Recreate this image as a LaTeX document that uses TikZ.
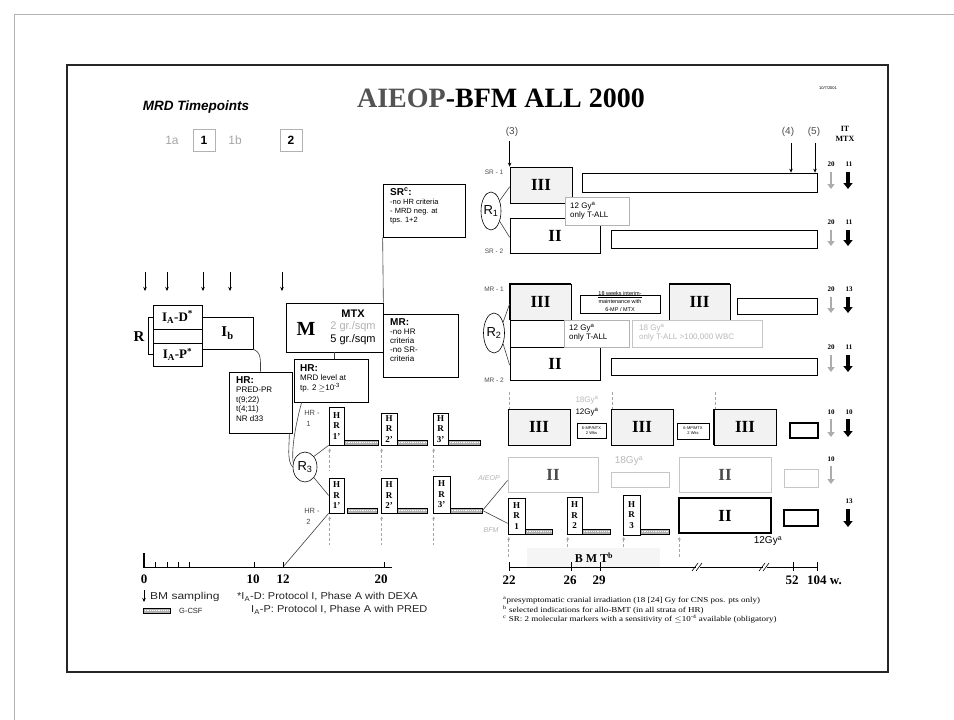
\documentclass[tikz,border=0pt]{standalone}
\usepackage{fontspec}
\setmainfont{Liberation Serif}
\setsansfont{Liberation Sans}
\usepackage{graphicx}
\usetikzlibrary{fit,shapes.geometric,arrows.meta,calc}
\newcommand\fsz[1]{\fontsize{#1}{#1}\selectfont}
\newcommand\rn[1]{\rmfamily\bfseries\fsz{17}#1}
\newcommand\rb[6][]{\node[fit={(#4) (#5)}, inner sep=0pt, #3] (#2) {};
  \node[txt, #1] (#2t) at (#2.center) {#6};}
\begin{document}
\begin{tikzpicture}[x=1pt,y=-1pt,
  txt/.style={inner sep=0pt, align=center, font=\sffamily},
  hrf/.style={font=\rmfamily\bfseries\fontsize{9}{10.5}\selectfont},
  tiny/.style={font=\sffamily\fontsize{4}{5}\selectfont},
  bx/.style={draw, line width=0.7pt, inner sep=0pt},
  pIII/.style={bx, fill=gray!10},
  gbx/.style={draw=gray!45, line width=0.8pt, inner sep=0pt},
  tbx/.style={draw, line width=1.4pt, inner sep=0pt},
  csf/.style={draw, line width=0.6pt, fill=gray!60, inner sep=0pt,
    path picture={\draw[white, line width=1.1pt, dash pattern=on 1.2pt off 1pt]
      (path picture bounding box.west) -- (path picture bounding box.east);}},
  bm/.style={-{Stealth[length=4pt,width=3.5pt]}, line width=0.6pt},
  garr/.style={-{Triangle[length=5pt,width=7pt]}, line width=2.4pt, gray!65},
  karr/.style={-{Triangle[length=6pt,width=9pt]}, line width=3.2pt, black},
  dsh/.style={densely dashed, gray!70, line width=0.5pt, {Stealth[length=3pt,width=3pt]}-},
  dsn/.style={densely dashed, gray!70, line width=0.5pt},
  ln/.style={line width=0.6pt, gray!50!black},
  lab/.style={txt, text=gray!60!black, font=\sffamily\fsz{6.5}},
]
\useasboundingbox (0,0) rectangle (954,720);
\fill[white] (0,0) rectangle (954,720);
% frames
\draw[gray!60, line width=1pt] (14,720) -- (14,14) -- (954,14);
\draw[line width=2.4pt, black!85] (67,65) rectangle (888,672);

% title
\node[inner sep=0pt, font=\rmfamily\bfseries\fsz{28}] (title) at (501,98) {\textcolor{gray!65!black}{AIEOP}-BFM ALL 2000};
\node[txt, font=\sffamily\fsz{4}] (date) at (828,88) {10/7/2001};

% MRD timepoints
\node[txt, font=\sffamily\bfseries\itshape\fsz{13.5}] (mrd) at (196,107) {MRD Timepoints};
\node[txt, text=gray!70, font=\sffamily\fsz{12}] (t1a) at (172,140) {1a};
\rb[font=\sffamily\bfseries\fsz{12}]{t1}{draw=gray!60, line width=0.6pt}{193,129}{215,151}{1}
\node[txt, text=gray!70, font=\sffamily\fsz{12}] (t1b) at (235,140) {1b};
\rb[font=\sffamily\bfseries\fsz{12}]{t2}{draw=gray!60, line width=0.6pt}{280,129}{302,151}{2}

% BM sampling arrows
\foreach \x [count=\i] in {145,167,203,230,282} {
  \coordinate (bma\i) at (\x,272); \coordinate (bmb\i) at (\x,291);
  \draw[bm] (bma\i) -- (bmb\i);}

% induction
\node[txt, font=\rmfamily\bfseries\fsz{15}] (Rl) at (139,337) {R};
\rb{gapA}{bx}{153,329}{202,343}{}
\rb{iad}{bx}{153,305}{202,329}{\rmfamily\bfseries\fsz{13}I\textsubscript{A}-D\textsuperscript{*}}
\rb{iap}{bx}{153,343}{202,366}{\rmfamily\bfseries\fsz{13}I\textsubscript{A}-P\textsuperscript{*}}
\rb{ib}{bx}{202,317}{253,349}{\rmfamily\bfseries\fsz{15}I\textsubscript{b}}
\draw[line width=0.6pt] (iad.west) -- ++(-4,0) |- (iap.west);

% HR left
\rb{hrl}{bx}{229,372}{292,433}{}
\node[txt, anchor=north west, align=left, font=\sffamily\fontsize{8}{9.6}\selectfont] (hrlx) at (236,376)
  {{\fsz{10}\bfseries HR:}\\PRED-PR\\t(9;22)\\t(4;11)\\NR d33};
\draw[ln] (ib.south east) .. controls +(8,3) and +(0,-12) .. (hrl.north);

% M
\rb{mb}{bx}{286,303}{383,352}{}
\node[txt, font=\rmfamily\bfseries\fsz{20}] (mM) at (306,329) {M};
\node[txt, font=\sffamily\fontsize{11}{12.5}\selectfont] (mtx) at (353,327)
  {{\bfseries MTX}\\\textcolor{gray!60}{2 gr./sqm}\\5 gr./sqm};

% HR middle
\rb{hrm}{bx}{294,359}{368,402}{}
\node[txt, anchor=north west, align=left, font=\sffamily\fontsize{8}{9.5}\selectfont] (hrmx) at (300,364)
  {{\fsz{10}\bfseries HR:}\\MRD level at\\tp. 2 $\geq$10\textsuperscript{-3}};
\draw[ln] (mb.south) -- (mb.south |- hrm.north);

% SR box
\rb{srb}{bx}{383,184}{465,237}{}
\node[txt, anchor=north west, align=left, font=\sffamily\fontsize{7.5}{9}\selectfont] (srbx) at (390,188)
  {{\fsz{10}\bfseries SR\textsuperscript{c}:}\\-no HR criteria\\- MRD neg. at\\tps. 1+2};
\draw[ln] (srb.south west) -- (mb.north east);

% MR box
\rb{mrb}{bx}{383,314}{458,377}{}
\node[txt, anchor=north west, align=left, font=\sffamily\fontsize{8}{9.2}\selectfont] (mrbx) at (390,318)
  {{\fsz{10}\bfseries MR:}\\-no HR\\criteria\\-no SR-\\criteria};

% ---------- SR right ----------
\node[lab] (lsr1) at (494,172) {SR - 1};
\rb{sr1}{pIII}{510,167}{572,203}{\rn{III}}
\rb{sr1m}{bx}{582,173}{817,192}{}
\rb{sr2}{bx}{510,218}{600,253}{\rn{II}}
\draw[line width=1.6pt] (sr2.north east) -- (sr2.south east);
\rb{sr12}{bx, fill=white, draw=gray!60}{565,197}{629,225}{}
\node[txt, anchor=west, align=left, font=\sffamily\fontsize{8}{9.5}\selectfont] (sr12x) at (570,211) {12 Gy\textsuperscript{a}\\only T-ALL};
\rb{sr2m}{bx}{611,230}{817,248}{}
\node[lab] (lsr2) at (494,251) {SR - 2};
\node[draw, ellipse, line width=0.6pt, minimum width=20pt, minimum height=38pt, inner sep=0pt, fill=white] (R1) at (491,211) {};
\node[txt, font=\sffamily\fsz{13}] (R1t) at (491,211) {R\textsubscript{1}};
\draw[ln] (R1.50) -- ($(sr1.south west)!0.45!(sr1.north west)$);
\draw[ln] (R1.-50) -- ($(sr2.north west)!0.55!(sr2.south west)$);

% ---------- MR right ----------
\node[lab] (lmr1) at (494,289) {MR - 1};
\rb{mr1}{pIII}{510,284}{571,320}{\rn{III}}
\rb{mrim}{bx}{580,295}{660,313}{}
\node[txt, font=\sffamily\fontsize{5.5}{8}\selectfont] (mrimx) at (620,302) {\underline{18 weeks interim-}\\maintenance with\\6-MP / MTX};
\rb{mr1b}{pIII}{669,284}{730,320}{\rn{III}}
\draw[line width=1.4pt] (mr1.south west) |- (mr1.north east);
\draw[line width=1.4pt] (mr1b.north west) -- (mr1b.north east);
\rb{mr1m}{bx}{737,298}{817,314}{}
\rb{mrgap}{bx}{510,320}{564,347}{}
\rb{mr2}{bx}{510,347}{600,380}{\rn{II}}
\draw[line width=1.6pt] (mr2.north east) -- (mr2.south east);
\rb{mr12}{bx, fill=white, draw=gray!60}{564,320}{629,347}{}
\node[txt, anchor=west, align=left, font=\sffamily\fontsize{8}{9.5}\selectfont] (mr12x) at (569,333) {12 Gy\textsuperscript{a}\\only T-ALL};
\rb{mr18}{gbx, fill=white}{632,320}{762,347}{}
\node[txt, anchor=west, align=left, text=gray!55, font=\sffamily\fontsize{8}{9.5}\selectfont] (mr18x) at (639,333) {18 Gy\textsuperscript{a}\\only T-ALL >100,000 WBC};
\rb{mr2m}{bx}{611,358}{817,375}{}
\node[lab] (lmr2) at (494,380) {MR - 2};
\node[draw, ellipse, line width=0.6pt, minimum width=21pt, minimum height=40pt, inner sep=0pt, fill=white] (R2) at (494,333) {};
\node[txt, font=\sffamily\fsz{13}] (R2t) at (494,333) {R\textsubscript{2}};
\draw[ln] (R2.50) -- ($(mr1.south west)!0.45!(mr1.north west)$);
\draw[ln] (R2.-50) -- ($(mr2.north west)!0.55!(mr2.south west)$);

% ---------- HR right ----------
\rb{h1a}{pIII}{508,409}{570,445}{\rn{III}}
\rb[tiny]{h1s1}{bx, line width=1pt}{577,423}{606,438}{6-MP/MTX\\2 Wks}
\node[txt, text=gray!55, font=\sffamily\fsz{8}] (g18) at (587,400) {18Gy\textsuperscript{a}};
\node[txt, font=\sffamily\fsz{8}] (g12) at (587,412) {12Gy\textsuperscript{a}};
\rb{h1b}{pIII}{611,409}{673,445}{\rn{III}}
\rb[tiny]{h1s2}{bx, line width=1pt}{677,423}{709,439}{6-MP/MTX\\2 Wks}
\rb{h1c}{pIII}{714,409}{776,445}{\rn{III}}
\draw[line width=1.4pt] (h1c.south west) -- (h1c.north west);
\rb{h1s3}{bx, line width=1.3pt}{790,423}{818,438}{}

\node[txt, text=gray!60, font=\sffamily\itshape\fsz{7}] (laieop) at (489,478) {AIEOP};
\rb[text=gray!60!black]{a1}{gbx}{508,457}{598,492}{\rn{II}}
\node[txt, text=gray!55, font=\sffamily\fsz{10}] (a18) at (629,461) {18Gy\textsuperscript{a}};
\rb{a2}{gbx}{611,472}{669,487}{}
\rb[text=gray!60!black]{a3}{gbx}{679,457}{771,492}{\rn{II}}
\rb{a4}{gbx}{784,469}{818,487}{}

\node[txt, text=gray!60, font=\sffamily\itshape\fsz{7}] (lbfm) at (491,530) {BFM};
\rb[hrf]{b1}{bx}{508,498}{525,534}{H\\R\\1}
\rb{b1c}{csf}{525,529}{552,534}{}
\rb[hrf]{b2}{bx}{567,497}{582,534}{H\\R\\2}
\rb{b2c}{csf}{582,529}{610,534}{}
\rb[hrf]{b3}{bx}{623,495}{640,535}{H\\R\\3}
\rb{b3c}{csf}{640,529}{669,534}{}
\rb{b4}{tbx}{679,498}{771,533}{\rn{II}}
\rb{b5}{tbx}{784,510}{818,526}{}
\node[txt, font=\sffamily\fsz{10}] (b12) at (768,541) {12Gy\textsuperscript{a}};

% ---------- HR blocks left ----------
\node[lab, align=left, font=\sffamily\fontsize{7.5}{11}\selectfont] (lhr1) at (312,418) {HR -\\\ 1};
\rb[hrf]{l1a}{bx}{329,407}{344,445}{H\\R\\1'}
\rb{l1ac}{csf}{344,440}{378,445}{}
\rb[hrf]{l1b}{bx}{381,413}{397,445}{H\\R\\2'}
\rb{l1bc}{csf}{397,440}{427,445}{}
\rb[hrf]{l1c}{bx}{433,413}{448,445}{H\\R\\3'}
\rb{l1cc}{csf}{448,440}{480,445}{}

\node[lab, align=left, font=\sffamily\fontsize{7.5}{11}\selectfont] (lhr2) at (312,516) {HR -\\\ 2};
\rb[hrf]{l2a}{bx}{329,478}{344,513}{H\\R\\1'}
\rb{l2ac}{csf}{347,508}{377,513}{}
\rb[hrf]{l2b}{bx}{381,478}{397,513}{H\\R\\2'}
\rb{l2bc}{csf}{397,508}{427,513}{}
\rb[hrf]{l2c}{bx}{433,476}{450,513}{H\\R\\3'}
\rb{l2cc}{csf, line width=1pt}{450,508}{482,513}{}

\node[draw, ellipse, line width=0.6pt, minimum width=24pt, minimum height=30pt, inner sep=0pt, fill=white] (R3) at (305,467) {};
\node[txt, font=\sffamily\fsz{13}] (R3t) at (305,467) {R\textsubscript{3}};
\draw[ln] (R3.50) -- (l1a.south west);
\draw[ln] (R3.-50) -- (l2a.west);
\draw[ln] ($(hrm.south west)+(8,0)$) .. controls +(-6,22) and +(-2,-14) .. (R3.160);
\draw[ln] ($(hrl.south east)+(-3,0)$) .. controls +(0,12) and +(-6,-6) .. (R3.west);
\coordinate (t12) at (283,567);
\draw[ln] (t12) -- (l2a.south west);
\draw[ln] (l2cc.east) -- ($(a1.south west)+(0,-12)$);
\draw[ln] (l2cc.east) -- ($(b1.south west)+(0,-11)$);

% dashed guides
\foreach \n in {l1a,l1b,l1c} {
  \coordinate (d\n) at ($(\n.south west)+(1,25)$);
  \draw[dsh] ($(\n.south west)+(1,3)$) -- (d\n);}
\foreach \n in {l2a,l2b,l2c} {
  \coordinate (d\n) at ($(\n.south west)+(1,32)$);
  \draw[dsh] ($(\n.south west)+(1,3)$) -- (d\n);}
\foreach \n in {b1,b2,b3,b4} {
  \coordinate (d\n) at ($(\n.south west |- 0,558)+(1,0)$);
  \draw[dsh] ($(\n.south west |- 0,537)+(1,0)$) -- (d\n);}
\foreach \n in {h1a,h1b,h1c} {
  \coordinate (u\n) at ($(\n.north west)+(2,-17)$);
  \draw[dsn] (u\n) -- ($(\n.north west)+(2,0)$);}

% ---------- top right markers ----------
\node[txt, text=gray!60!black, font=\sffamily\fsz{10}] (m3) at (512,132) {(3)};
\node[txt, text=gray!60!black, font=\sffamily\fsz{10}] (m4) at (788,132) {(4)};
\node[txt, text=gray!60!black, font=\sffamily\fsz{10}] (m5) at (814,132) {(5)};
\draw[bm] (sr1.north west |- 0,141) -- (sr1.north west);
\coordinate (m4a) at (791,143); \draw[bm] (m4a) -- (m4a |- sr1m.north);
\coordinate (m5a) at (815,143); \draw[bm] (m5a) -- (m5a |- sr1m.north);
\node[txt, font=\rmfamily\bfseries\fontsize{8}{10}\selectfont] (itmtx) at (845,134) {IT\\MTX};

\foreach \n/\yl/\ya/\yb/\ga/\kb in {sr1/164/172/189/20/11, sr2/222/230/246/20/11,
   mr1/289/297/313/20/13, mr2/347/355/372/20/11, hr1/412/419/437/10/10} {
  \node[txt, font=\rmfamily\bfseries\fsz{7}] (g\n) at (831,\yl) {\ga};
  \node[txt, font=\rmfamily\bfseries\fsz{7}] (k\n) at (849,\yl) {\kb};
  \coordinate (ga\n) at (831,\ya); \coordinate (gb\n) at (831,\yb);
  \coordinate (ka\n) at (848,\ya); \coordinate (kb\n) at (848,\yb);
  \draw[garr] (ga\n) -- (gb\n);
  \draw[karr] (ka\n) -- (kb\n);}
\node[txt, font=\rmfamily\bfseries\fsz{7}] (gai) at (831,459) {10};
\coordinate (gaai) at (831,466); \coordinate (gbai) at (831,484);
\draw[garr] (gaai) -- (gbai);
\node[txt, font=\rmfamily\bfseries\fsz{7}] (kbf) at (849,501) {13};
\coordinate (kabf) at (848,509); \coordinate (kbbf) at (848,527);
\draw[karr] (kabf) -- (kbbf);

% ---------- left time axis ----------
\coordinate (ax0) at (143,567); \coordinate (ax1) at (392,567);
\draw[line width=0.8pt] (ax0) -- (ax1);
\draw[line width=1.2pt] (144,553) -- (144,567);
\foreach \x in {155,167,178,189,254,283,384} \draw[line width=0.6pt] (\x,562) -- (\x,567);
\foreach \x/\t in {144/0,253/10,283/12,381/20}
  \node[txt, font=\rmfamily\bfseries\fsz{13}] (lx\t) at (\x,579) {\t};

% legend
\coordinate (lg1) at (144,590); \coordinate (lg2) at (144,602);
\draw[bm] (lg1) -- (lg2);
\node[txt, anchor=west, text=gray!30!black, font=\sffamily\fsz{10}] (lgbm) at (150,597) {\scalebox{1.2}[1]{BM sampling}};
\node[txt, anchor=west, text=gray!30!black, font=\sffamily\fsz{10}] (lgd) at (237,597) {\scalebox{1.1}[1]{*I\textsubscript{A}-D: Protocol I, Phase A with DEXA}};
\node[txt, anchor=west, text=gray!30!black, font=\sffamily\fsz{10}] (lgp) at (251,610) {\scalebox{1.1}[1]{I\textsubscript{A}-P: Protocol I, Phase A with PRED}};
\rb{lgc}{csf}{143,608}{170,613}{}
\node[txt, anchor=west, text=gray!30!black, font=\sffamily\fsz{7.5}] (lgct) at (179,611) {G-CSF};

% ---------- right time axis ----------
\rb{bmt}{fill=gray!8}{527,548}{660,568}{}
\node[txt, font=\rmfamily\bfseries\fsz{12}] (bmtt) at (594,558) {B M T\textsuperscript{b}};
\coordinate (rx0) at (509,567); \coordinate (rx1) at (696,567);
\coordinate (rx2) at (700,567); \coordinate (rx3) at (763,567);
\coordinate (rx4) at (767,567); \coordinate (rx5) at (817,567);
\draw[line width=0.8pt] (rx0) -- (rx1) (rx2) -- (rx3) (rx4) -- (rx5);
\draw[line width=0.6pt] (692,571) -- (698,563) (696,571) -- (702,563)
  (759,571) -- (765,563) (763,571) -- (769,563);
\foreach \x in {509,571,600,793,817} \draw[line width=0.6pt] (\x,562) -- (\x,571);
\foreach \x/\t in {509/22,570/26,599/29,792/52}
  \node[txt, font=\rmfamily\bfseries\fsz{13}] (rx\t) at (\x,580) {\t};
\node[txt, anchor=west, font=\rmfamily\bfseries\fsz{13}] (rx104) at (807,580) {104 w.};

% footnotes
\node[txt, anchor=west, font=\rmfamily\fsz{7.5}] (fa) at (503,601) {\scalebox{1.2}[1]{\textsuperscript{a}presymptomatic cranial irradiation (18 [24] Gy for CNS pos. pts only)}};
\node[txt, anchor=west, font=\rmfamily\fsz{7.5}] (fb) at (503,610) {\scalebox{1.2}[1]{\textsuperscript{b} selected indications for allo-BMT (in all strata of HR)}};
\node[txt, anchor=west, font=\rmfamily\fsz{7.5}] (fc) at (503,619) {\scalebox{1.2}[1]{\textsuperscript{c} SR: 2 molecular markers with a sensitivity of $\leq$10\textsuperscript{-4} available (obligatory)}};
\end{tikzpicture}
\end{document}
